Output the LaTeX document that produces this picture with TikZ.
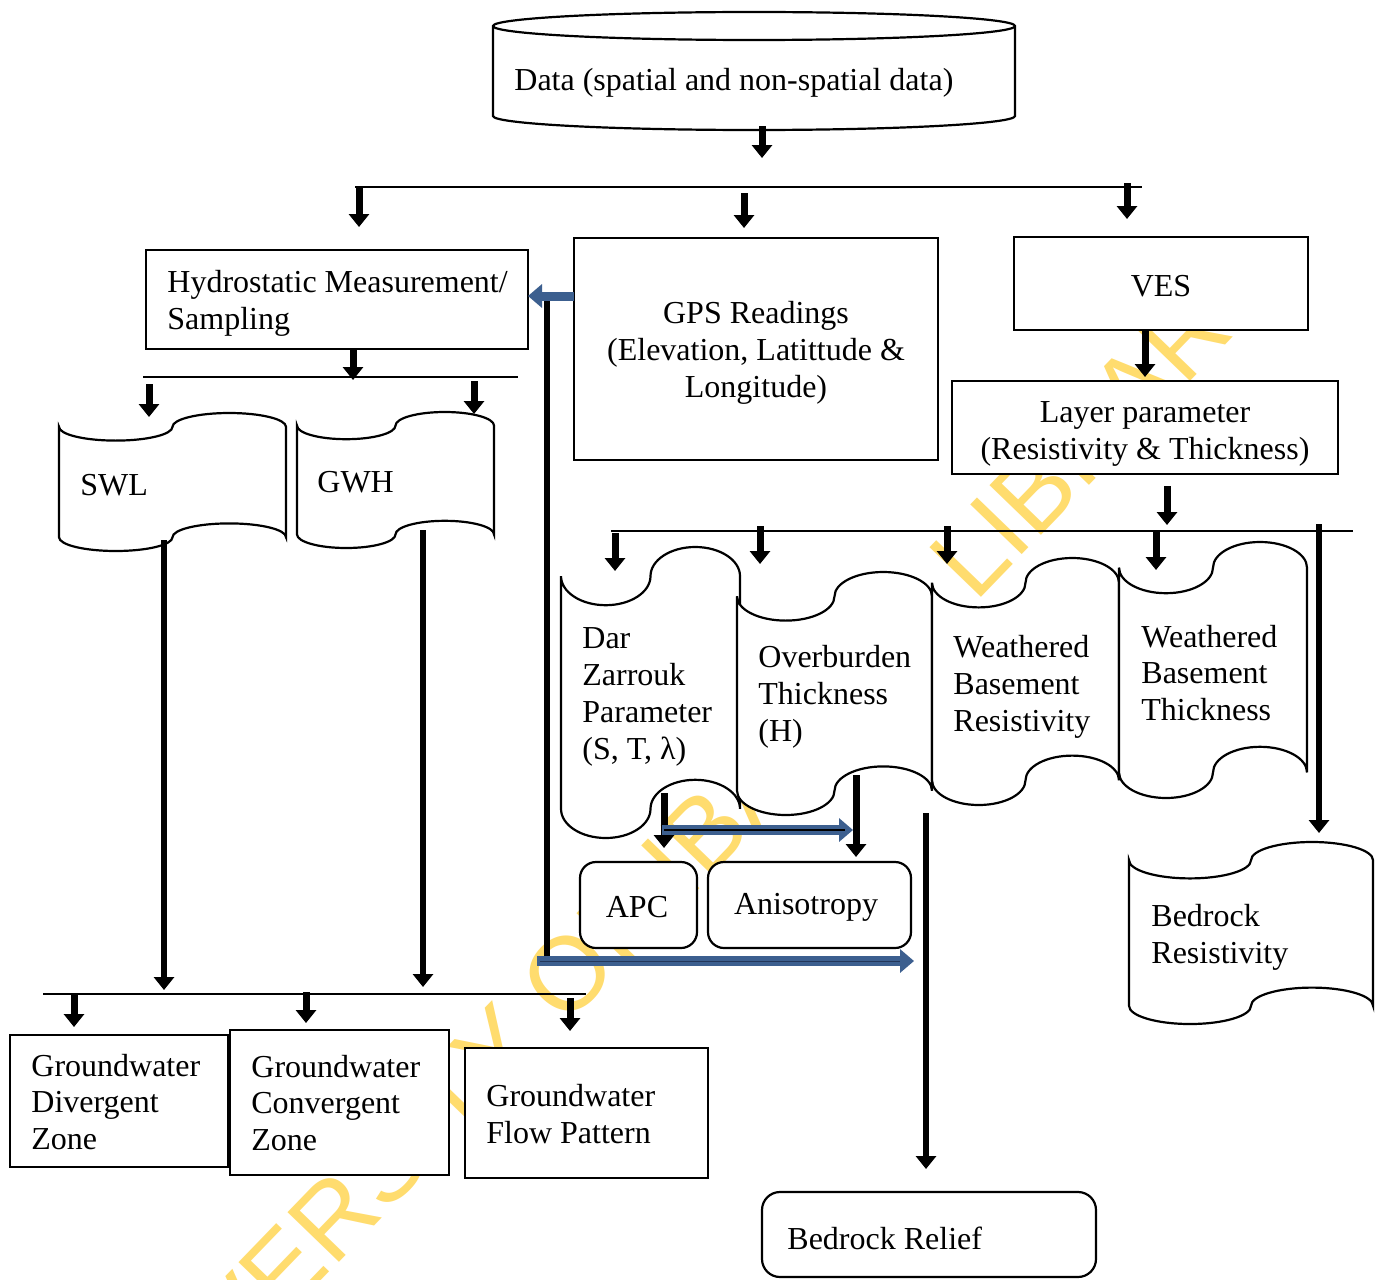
\documentclass[tikz,border=0pt]{standalone}
\usepackage{fontspec}
\setmainfont{Liberation Serif}
\newfontfamily\wmfont{Liberation Sans}
\usetikzlibrary{arrows.meta,fit}
\definecolor{wmyellow}{RGB}{255,220,110}
\definecolor{arrowblue}{RGB}{60,95,143}
\definecolor{arrowdark}{RGB}{35,55,90}
\tikzset{
  box/.style={draw=black, line width=1.1pt, fill=white},
  fitbox/.style={box, inner sep=0pt, fit={#1}},
  lbl/.style={inner sep=0pt, align=left, font=\fontsize{16pt}{18.4pt}\selectfont},
  clbl/.style={lbl, align=center},
  bus/.style={line width=0.65pt},
  blk/.style={line width=3.5pt, -{Triangle[width=10pt,length=6.5pt]}},
  longblk/.style={line width=3pt, -{Triangle[width=10pt,length=6.5pt]}},
  bluearr/.style={line width=5pt, draw=arrowblue, -{Triangle[width=11.5pt,length=7pt]}},
}
\newcommand{\tapeshape}[5]{% name, x0, y0, w, h
  \pgfmathsetmacro{\ta}{#5/10}
  \pgfmathsetmacro{\tq}{#4/4}
  \draw[box] (#2,#3+\ta)
     arc[start angle=180,end angle=0,x radius=\tq,y radius=\ta]
     arc[start angle=180,end angle=360,x radius=\tq,y radius=\ta]
     -- (#2+#4,#3+#5-\ta)
     arc[start angle=0,end angle=-180,x radius=\tq,y radius=\ta]
     arc[start angle=0,end angle=180,x radius=\tq,y radius=\ta]
     -- cycle;
  \coordinate (#1) at (#2+#4/2,#3+#5/2);
}
\begin{document}
\begin{tikzpicture}[x=0.5pt,y=-0.5pt]
\useasboundingbox (0,0) rectangle (1380,1279);
\fill[white] (0,0) rectangle (1380,1279);

% watermark
\node[rotate=46, text=wmyellow, font=\wmfont\fontsize{52pt}{60pt}\selectfont, inner sep=0pt] (wm) at (672,866) {UNIVERSITY OF IBADAN LIBRARY};

% cylinder
\draw[box] (493,116) -- (493,26)
  arc[start angle=180,end angle=360,x radius=261,y radius=14]
  -- (1015,116)
  arc[start angle=0,end angle=180,x radius=261,y radius=14] -- cycle;
\draw[line width=1.1pt] (493,26) arc[start angle=180,end angle=0,x radius=261,y radius=14];
\coordinate (data) at (754,70);

% rectangular boxes
\node[fitbox={(146,250)(528,349)}] (hydro) {};
\node[fitbox={(574,238)(938,460)}] (gps) {};
\node[fitbox={(1014,237)(1308,330)}] (ves) {};
\node[fitbox={(952,381)(1338,474)}] (layer) {};
\node[fitbox={(580,862)(697,948)}, rounded corners=8pt] (apc) {};
\node[fitbox={(708,862)(911,948)}, rounded corners=8pt] (aniso) {};
\node[fitbox={(10,1035)(228,1167)}, line width=1.4pt] (div) {};
\node[fitbox={(230,1030)(449,1175)}, line width=1.4pt] (conv) {};
\node[fitbox={(465,1048)(708,1178)}, line width=1.4pt] (flow) {};
\node[fitbox={(762,1192)(1096,1277)}, rounded corners=9pt] (relief) {};

% tape shapes
\tapeshape{swl}{59}{413}{227}{138}
\tapeshape{gwh}{297}{412}{197}{136}
\tapeshape{dar}{561}{547}{179}{291}
\tapeshape{over}{737}{572}{195}{243}
\tapeshape{wbr}{932}{558}{187}{247}
\tapeshape{wbt}{1119}{542}{188}{256}
\tapeshape{bres}{1129}{842}{244}{182}

% texts
\node[lbl, anchor=west] (tdata) at (514,83) {Data (spatial and non-spatial data)};
\node[lbl, anchor=west] (thydro) at (167,303) {Hydrostatic Measurement/\\Sampling};
\node[clbl] (tgps) at (756,353) {GPS Readings\\(Elevation, Latittude \&\\Longitude)};
\node[clbl] (tves) at (1161,286) {VES};
\node[clbl] (tlayer) at (1145,434) {Layer parameter\\(Resistivity \& Thickness)};
\node[lbl, anchor=west] (tswl) at (80,485) {SWL};
\node[lbl, anchor=west] (tgwh) at (317,482) {GWH};
\node[lbl, anchor=west] (tdar) at (582,697) {Dar\\Zarrouk\\Parameter\\(S, T, λ)};
\node[lbl, anchor=west] (tover) at (758,697) {Overburden\\Thickness\\(H)};
\node[lbl, anchor=west] (twbr) at (953,687) {Weathered\\Basement\\Resistivity};
\node[lbl, anchor=west] (twbt) at (1141,673) {Weathered\\Basement\\Thickness};
\node[clbl] (tapc) at (637,907) {APC};
\node[clbl] (taniso) at (806,907) {Anisotropy};
\node[lbl, anchor=west] (tbres) at (1151,937) {Bedrock\\Resistivity};
\node[lbl, anchor=west] (tdiv) at (31,1102) {Groundwater\\Divergent\\Zone};
\node[lbl, anchor=west] (tconv) at (251,1103) {Groundwater\\Convergent\\Zone};
\node[lbl, anchor=west] (tflow) at (486,1114) {Groundwater\\Flow Pattern};
\node[lbl, anchor=west] (trelief) at (787,1238) {Bedrock Relief};

% bus lines
\foreach \n/\xa/\xb/\y in {b1/355/1142/187, b2/143/518/377, b3/611/1353/531, b4/43/586/994}
  {\coordinate (\n s) at (\xa,\y); \coordinate (\n e) at (\xb,\y); \draw[bus] (\n s) -- (\n e);}

% thick vertical line
\coordinate (v1s) at (547,298);
\coordinate (v1e) at (547,963);
\draw[line width=3pt] (v1s) -- (v1e);

% short block arrows
\foreach \n/\x/\ya/\yb in {
 a1/762/126/158,
 a2/359/188/227, a3/744/193/228, a4/1127/183/219,
 a5/353/349/380, a6/149/384/417, a7/474/381/414,
 a8/1145/331/377, a9/1167/486/525,
 a10/615/533/571, a11/760/526/564, a12/947/526/564, a13/1156/532/570,
 a14/664/793/848, a15/856/775/857,
 a16/74/995/1027, a17/306/992/1023, a18/570/998/1031}
  {\coordinate (\n s) at (\x,\ya); \coordinate (\n e) at (\x,\yb); \draw[blk] (\n s) -- (\n e);}

% long arrows
\foreach \n/\x/\ya/\yb in {l1/1319/524/833, l2/926/813/1169, l3/164/540/990, l4/423/530/987}
  {\coordinate (\n s) at (\x,\ya); \coordinate (\n e) at (\x,\yb); \draw[longblk] (\n s) -- (\n e);}

% blue arrows
\coordinate (u1s) at (574,296);
\coordinate (u1e) at (528,296);
\draw[bluearr, line width=4.5pt] (u1s) -- (u1e);
\coordinate (u2s) at (662,830);
\coordinate (u2e) at (853,830);
\draw[bluearr] (u2s) -- (u2e);
\coordinate (u2a) at (664,830);
\coordinate (u2b) at (845,830);
\draw[line width=1pt] (u2a) -- (u2b);
\coordinate (u3s) at (537,961);
\coordinate (u3e) at (914,961);
\draw[bluearr] (u3s) -- (u3e);
\coordinate (u3a) at (540,961);
\coordinate (u3b) at (900,961);
\draw[arrowdark, line width=0.5pt] (u3a) -- (u3b);
\end{tikzpicture}
\end{document}
